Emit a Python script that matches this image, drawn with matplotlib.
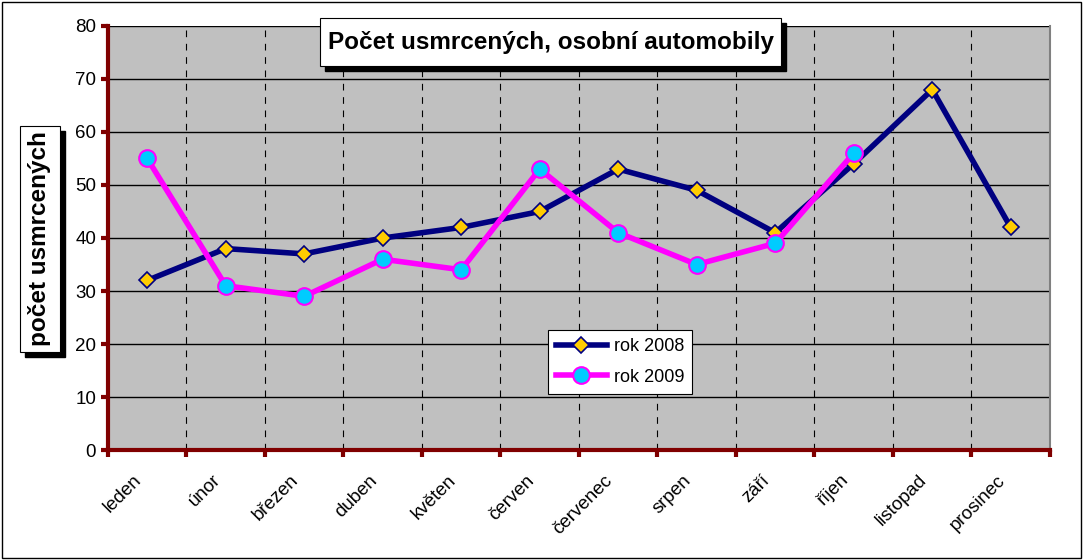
import numpy as np
import matplotlib.pyplot as plt
import matplotlib.transforms as mtransforms
from matplotlib.patches import Rectangle

plt.rcParams['font.family'] = ['Liberation Sans', 'DejaVu Sans']

months = ["leden", "únor", "březen", "duben", "květen", "červen",
          "červenec", "srpen", "září", "říjen", "listopad", "prosinec"]
rok_2008 = [32, 38, 37, 40, 42, 45, 53, 49, 41, 54, 68, 42]
rok_2009 = [55, 31, 29, 36, 34, 53, 41, 35, 39, 56]

fig = plt.figure(figsize=(10.83, 5.6), dpi=100)
ax = fig.add_axes([0.0997, 0.1964, 0.8698, 0.7572])
ax.set_facecolor("#c0c0c0")

x08 = np.arange(len(rok_2008))
x09 = np.arange(len(rok_2009))
ax.plot(x08, rok_2008, color="#000080", lw=4, marker="D", ms=8,
        mfc="#ffcc00", mec="#000080", mew=1.2, label="rok 2008", zorder=3)
ax.plot(x09, rok_2009, color="#ff00ff", lw=4, marker="o", ms=12,
        mfc="#00ccff", mec="#ff00ff", mew=1.5, label="rok 2009", zorder=4)

ax.set_xlim(-0.5, 11.5)
ax.set_ylim(0, 80)
ax.set_yticks(np.arange(0, 81, 10))
ax.set_xticks(np.arange(-0.5, 12, 1))
ax.set_xticklabels([])
ax.set_xticks(x08, minor=True)
ax.set_xticklabels(months, minor=True, rotation=45, ha="right", va="center",
                   rotation_mode="anchor", fontsize=13.5)
ax.tick_params(axis="x", which="minor", length=0, pad=20)
ax.tick_params(axis="x", which="major", length=5, width=3, color="#800000", direction="out")
ax.tick_params(axis="y", length=5, width=3, color="#800000", labelsize=13.5)
shift = mtransforms.ScaledTranslation(-8 / 100, 0, fig.dpi_scale_trans)
for lbl in ax.get_xticklabels(minor=True):
    lbl.set_transform(lbl.get_transform() + shift)

ax.grid(axis="y", color="black", lw=1)
for b in np.arange(0.5, 11.5, 1):
    ax.axvline(b, color="black", lw=0.8, ls=(0, (6, 6)), zorder=1)
ax.set_axisbelow(True)

for side in ["left", "bottom"]:
    ax.spines[side].set_color("#800000")
    ax.spines[side].set_linewidth(3)
ax.spines["top"].set_visible(False)
ax.spines["right"].set_color("#808080")
ax.spines["right"].set_linewidth(1.5)

leg = ax.legend(loc="upper left", bbox_to_anchor=(0.467, 0.283), fontsize=13,
                frameon=True, fancybox=False, edgecolor="black", framealpha=1,
                handlelength=2.8, handletextpad=0.4, borderpad=0.45,
                labelspacing=0.75, borderaxespad=0)
leg.get_frame().set_linewidth(0.8)

# title box with shadow
tx0, ty0, tw, th = 320 / 1083, 1 - 66 / 560, 461 / 1083, 48 / 560
fig.patches.append(Rectangle((tx0 + 5 / 1083, ty0 - 5 / 560), tw, th, transform=fig.transFigure,
                             facecolor="black", edgecolor="black", zorder=5))
fig.patches.append(Rectangle((tx0, ty0), tw, th, transform=fig.transFigure,
                             facecolor="white", edgecolor="black", lw=0.8, zorder=6))
fig.text(tx0 + tw / 2, ty0 + th / 2, "Počet usmrcených, osobní automobily",
         ha="center", va="center", fontsize=17.5, fontweight="bold", zorder=7)

# y label box with shadow
lx0, ly0, lw_, lh = 20 / 1083, 1 - 352 / 560, 40 / 1083, 226 / 560
fig.patches.append(Rectangle((lx0 + 5 / 1083, ly0 - 5 / 560), lw_, lh, transform=fig.transFigure,
                             facecolor="black", edgecolor="black", zorder=5))
fig.patches.append(Rectangle((lx0, ly0), lw_, lh, transform=fig.transFigure,
                             facecolor="white", edgecolor="black", lw=0.8, zorder=6))
fig.text(lx0 + lw_ / 2, ly0 + lh / 2, "počet usmrcených", rotation=90,
         ha="center", va="center", fontsize=17.5, fontweight="bold", zorder=7)

# outer border
fig.patches.append(Rectangle((0.002, 0.004), 0.996, 0.992, transform=fig.transFigure,
                             facecolor="none", edgecolor="black", lw=1, zorder=8))

fig.savefig("out.png", dpi=100)
